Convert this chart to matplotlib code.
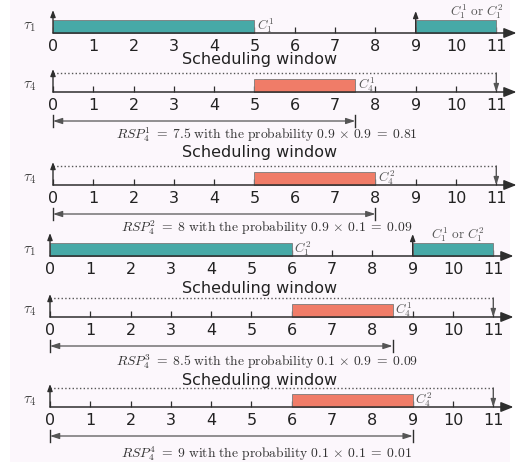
import matplotlib
matplotlib.use("Agg")
import matplotlib.pyplot as plt
from matplotlib.patches import FancyArrowPatch, Rectangle
from matplotlib.transforms import blended_transform_factory

plt.rcParams['mathtext.fontset'] = 'cm'
plt.rcParams['font.family'] = ['DejaVu Sans']

# ---------------- data ----------------
time_ticks = list(range(0, 12))
window_end = 11
release_t1 = 9

t1_first_start = [0, 0]
t1_first_end = [5, 6]
t1_first_label = [r"$C_1^1$", r"$C_1^2$"]
t1_second_start = [9, 9]
t1_second_end = [11, 11]
t1_second_label = r"$C_1^1\ \mathrm{or}\ C_1^2$"

t4_start = [5, 5, 6, 6]
t4_end = [7.5, 8, 8.5, 9]
t4_label = [r"$C_4^1$", r"$C_4^2$", r"$C_4^1$", r"$C_4^2$"]
rsp_index = [1, 2, 3, 4]
rsp_value = [7.5, 8, 8.5, 9]
prob_a = ["0.9", "0.9", "0.1", "0.1"]
prob_b = ["0.9", "0.1", "0.9", "0.1"]
prob_total = ["0.81", "0.09", "0.09", "0.01"]

# ---------------- layout ----------------
W, H = 518, 472
SCALE = 40.3
row_axis_px = [33, 92, 185, 256, 317, 407]
row_zero_px = [53, 53, 53, 50, 50, 50]
row_task = [1, 4, 4, 1, 4, 4]
t1_rows = [0, 3]
t4_rows = [1, 2, 4, 5]
or_label_x = [9.85, 9.45]
sw_offset = [32, 33, 29, 27]
rsp_text_offset = [-43, -43, -45, -47]

TEAL = '#47a9a7'
SALMON = '#f07c68'
EDGE = '#7a7a7a'
DARK = '#2e2e2e'
GRAY = '#555555'

fig = plt.figure(figsize=(W / 100, H / 100), dpi=100)
fig.patch.set_facecolor('white')
fig.patches.append(Rectangle((10 / W, 10 / H), 500 / W, 462 / H,
                             transform=fig.transFigure, facecolor='#fcf7fc',
                             edgecolor='none', zorder=-10))


def arrow(ax, p0, p1, hl=0.7, hw=0.3, lw=1.0, color=DARK, style='-|>', z=4):
    a = FancyArrowPatch(p0, p1, arrowstyle=f"{style},head_length={hl},head_width={hw}",
                        mutation_scale=10, lw=lw, color=color, shrinkA=0, shrinkB=0,
                        zorder=z, clip_on=False)
    ax.add_patch(a)


axes = []
for i, (apx, zpx) in enumerate(zip(row_axis_px, row_zero_px)):
    top, bot = apx - 40, apx + 55
    ax = fig.add_axes([10 / W, 1 - bot / H, 500 / W, (bot - top) / H])
    ax.set_xlim((10 - zpx) / SCALE, (510 - zpx) / SCALE)
    ax.set_ylim(apx - bot, apx - top)
    ax.patch.set_visible(False)
    for s in ['top', 'right', 'left']:
        ax.spines[s].set_visible(False)
    ax.spines['bottom'].set_position(('data', 0))
    ax.spines['bottom'].set_visible(False)
    ax.set_yticks([])
    ax.set_xticks(time_ticks)
    ax.set_xticklabels([str(t) for t in time_ticks])
    ax.tick_params(axis='x', direction='in', length=4.5, width=0.9, color=DARK,
                   labelsize=11.5, labelcolor='#222222', pad=4.0)
    ax.set_axisbelow(True)
    # time axis with arrow
    arrow(ax, (0, 0), (11.5, 0), hl=0.75, hw=0.3, lw=1.1)
    # vertical up arrow at 0
    arrow(ax, (0, 0), (0, 23), hl=0.4, hw=0.15, lw=1.0)
    # task label
    ax.text(30 / W, 6, rf"$\tau_{row_task[i]}$", fontsize=11, color='#444444',
            ha='center', va='center',
            transform=blended_transform_factory(fig.transFigure, ax.transData))
    axes.append(ax)

# tau_1 rows
for k, r in enumerate(t1_rows):
    ax = axes[r]
    ax.barh(0, t1_first_end[k] - t1_first_start[k], left=t1_first_start[k], height=13,
            align='edge', color=TEAL, edgecolor=EDGE, linewidth=0.6, zorder=2)
    ax.barh(0, t1_second_end[k] - t1_second_start[k], left=t1_second_start[k], height=13,
            align='edge', color=TEAL, edgecolor=EDGE, linewidth=0.6, zorder=2)
    ax.text(t1_first_end[k] + 0.06, 7, t1_first_label[k], fontsize=9.5, color=GRAY,
            ha='left', va='center')
    arrow(ax, (release_t1, 0), (release_t1, 22), hl=0.4, hw=0.15, lw=1.0)
    ax.text(or_label_x[k], 21, t1_second_label, fontsize=9.5, color=GRAY,
            ha='left', va='center')

# tau_4 rows
for k, r in enumerate(t4_rows):
    ax = axes[r]
    bt = blended_transform_factory(fig.transFigure, ax.transData)
    ax.text(260 / W, sw_offset[k], "Scheduling window", fontsize=11.5, color='#222222',
            ha='center', va='center', transform=bt)
    ax.plot([0, window_end], [19, 19], ls=':', lw=1.0, color=GRAY, zorder=3)
    arrow(ax, (window_end, 19), (window_end, 0), hl=0.45, hw=0.15, lw=1.0, color=GRAY)
    ax.barh(0, t4_end[k] - t4_start[k], left=t4_start[k], height=13,
            align='edge', color=SALMON, edgecolor=EDGE, linewidth=0.6, zorder=2)
    ax.text(t4_end[k] + 0.06, 7, t4_label[k], fontsize=9.5, color=GRAY,
            ha='left', va='center')
    # response time arrow
    arrow(ax, (0, -29), (rsp_value[k], -29), hl=0.55, hw=0.18, lw=0.9, color=GRAY,
          style='<|-|>')
    for xv in (0, rsp_value[k]):
        ax.plot([xv, xv], [-35, -23], color=DARK, lw=1.0, zorder=4, clip_on=False)
    txt = (rf"$RSP_4^{{{rsp_index[k]}}}\;=\;{rsp_value[k]:g}\ \mathrm{{with\ the\ probability}}\ "
           rf"{prob_a[k]}\,\times\,{prob_b[k]}\;=\;{prob_total[k]}$")
    ax.text(267 / W, rsp_text_offset[k], txt, fontsize=9.8, color='#333333',
            ha='center', va='center', transform=bt)

fig.savefig("out.png", dpi=100, facecolor='white')
